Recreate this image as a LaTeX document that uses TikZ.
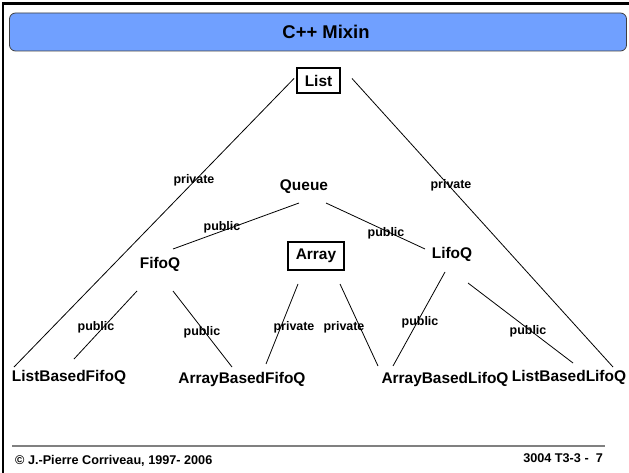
\documentclass[tikz,border=0pt]{standalone}
\usepackage{fontspec}
\setmainfont{Liberation Sans}
\begin{document}
\begin{tikzpicture}[x=1bp,y=-1bp,
  cls/.style={font=\fontsize{15.5}{17}\selectfont\bfseries, inner sep=0pt},
  clsbox/.style={cls, draw, line width=2.2bp, inner xsep=8bp, inner ysep=7bp},
  rel/.style={font=\fontsize{12.5}{14}\selectfont\bfseries, inner sep=0pt},
  link/.style={line width=0.8bp},
  foot/.style={font=\fontsize{12.7}{14}\selectfont\bfseries, inner sep=0pt}]
\useasboundingbox (0,0) rectangle (629,473);
\fill[white] (0,0) rectangle (629,473);

% page frame (top and left edges)
\draw[line width=2.4bp] (3,473) -- (3,3.5) -- (629,3.5);

% title bar
\node[draw=black!75, line width=0.8bp, fill={rgb,255:red,112;green,160;blue,255},
      rounded corners=6bp, minimum width=617bp, minimum height=38bp] (title) at (318,32) {};
\node[font=\fontsize{18.5}{20}\selectfont\bfseries] (titletext) at (326,32) {C++ Mixin};

% classes
\node[clsbox] (List)  at (318.5,80.5) {List};
\node[cls]    (Queue) at (304,187)   {Queue};
\node[cls]    (FifoQ) at (160,264)   {FifoQ};
\node[clsbox] (Array) at (316,256)   {Array};
\node[cls]    (LifoQ) at (452,254)   {LifoQ};
\node[cls]    (LBF)   at (69,377)    {ListBasedFifoQ};
\node[cls]    (ABF)   at (242,380)   {ArrayBasedFifoQ};
\node[cls]    (ABL)   at (445,380)   {ArrayBasedLifoQ};
\node[cls]    (LBL)   at (569,377)   {ListBasedLifoQ};

% inheritance links
\draw[link] ([shift={(-24.5,-2)}]List.center) -- ([shift={(-55,-10)}]LBF.center);
\draw[link] ([shift={(33.5,-2)}]List.center)  -- ([shift={(44,-10)}]LBL.center);
\draw[link] ([shift={(-5,16)}]Queue.center)   -- ([shift={(13,-15)}]FifoQ.center);
\draw[link] ([shift={(22,16)}]Queue.center)   -- ([shift={(-27,-5)}]LifoQ.center);
\draw[link] ([shift={(-23,27)}]FifoQ.center)  -- ([shift={(5,-18)}]LBF.center);
\draw[link] ([shift={(13,27)}]FifoQ.center)   -- ([shift={(-10,-13)}]ABF.center);
\draw[link] ([shift={(-18,28)}]Array.center)  -- ([shift={(24,-16)}]ABF.center);
\draw[link] ([shift={(24,28)}]Array.center)   -- ([shift={(-67,-14)}]ABL.center);
\draw[link] ([shift={(-7,18)}]LifoQ.center)   -- ([shift={(-52,-14)}]ABL.center);
\draw[link] ([shift={(16,29)}]LifoQ.center)   -- ([shift={(4,-14)}]LBL.center);

% access labels
\node[rel] (l1)  at (194,180) {private};
\node[rel] (l2)  at (451,185) {private};
\node[rel] (l3)  at (222,227) {public};
\node[rel] (l4)  at (386,233) {public};
\node[rel] (l5)  at (96,327)  {public};
\node[rel] (l6)  at (202,332) {public};
\node[rel] (l7)  at (294,327) {private};
\node[rel] (l8)  at (344,327) {private};
\node[rel] (l9)  at (420,322) {public};
\node[rel] (l10) at (528,331) {public};

% footer
\draw[line width=2bp, black!50] (12,446) -- (605,446);
\node[foot, anchor=west] (copy) at (15,461) {\textcopyright{} J.-Pierre Corriveau, 1997- 2006};
\node[foot, anchor=east] (page) at (603,458) {3004 T3-3 -\ \ 7};
\end{tikzpicture}
\end{document}
